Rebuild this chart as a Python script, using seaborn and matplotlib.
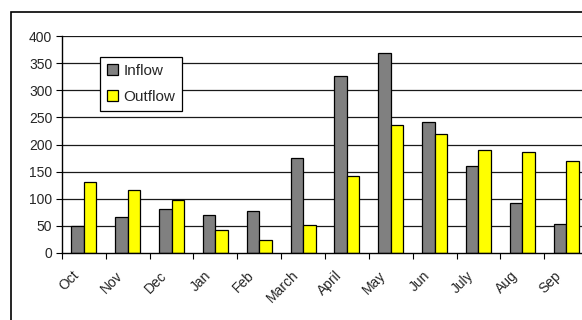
import matplotlib
matplotlib.use("Agg")
import matplotlib.pyplot as plt
from matplotlib.patches import Rectangle
from matplotlib.transforms import ScaledTranslation
import numpy as np
import pandas as pd
import seaborn as sns

sns.set_style("white")
plt.rcParams['font.family'] = ['Liberation Sans', 'DejaVu Sans']

months = ['Oct', 'Nov', 'Dec', 'Jan', 'Feb', 'March', 'April', 'May',
          'Jun', 'July', 'Aug', 'Sep']
inflow = [49, 66, 82, 70, 78, 175, 327, 369, 242, 161, 93, 54]
outflow = [131, 117, 98, 42, 24, 51, 142, 236, 220, 189, 187, 170]
series = ['Inflow', 'Outflow']
colors = ['#808080', '#ffff00']
y_ticks = [0, 50, 100, 150, 200, 250, 300, 350, 400]

df = pd.DataFrame({
    'month': months * 2,
    'value': inflow + outflow,
    'series': ['Inflow'] * len(months) + ['Outflow'] * len(months),
})

W, H = 582, 320
fig = plt.figure(figsize=(W / 100, H / 100), dpi=100)
ax = fig.add_axes([62 / W, 1 - 253 / H, 526 / W, 217 / H])

# outer chart border (cut by the image on right and bottom)
fig.patches.append(Rectangle((11 / W, -0.1), 1.2, 1.1 - 12 / H,
                             transform=fig.transFigure, fill=False,
                             edgecolor='black', linewidth=1.2, zorder=0))

ax.set_axisbelow(True)
for y in y_ticks[1:]:
    ax.axhline(y, color='#1a1a1a', linewidth=0.9, zorder=0)

sns.barplot(data=df, x='month', y='value', hue='series', order=months,
            hue_order=series, palette=colors, width=0.57, edgecolor='black',
            linewidth=0.9, saturation=1, ax=ax)

ax.set_xlim(-0.5, 11.5)
ax.set_ylim(0, 400)
ax.set_yticks(y_ticks)
ax.set_xlabel('')
ax.set_ylabel('')

ax.set_xticks(np.arange(len(months)))
ax.set_xticklabels(months, rotation=45, ha='right', rotation_mode='anchor',
                   fontsize=10)
ax.set_xticks(np.arange(-0.5, len(months), 1), minor=True)
ax.tick_params(axis='x', which='major', length=0, pad=11)
ax.tick_params(axis='x', which='minor', length=4, width=0.8, color='black',
               direction='out', bottom=True)
ax.tick_params(axis='y', length=4, width=0.8, color='black', direction='out',
               left=True, labelsize=10, pad=3)

# nudge the slanted month labels left, like the original
shift = ScaledTranslation(-12 / 100, 0, fig.dpi_scale_trans)
for tick in ax.xaxis.get_major_ticks():
    tick.label1.set_transform(tick.label1.get_transform() + shift)

for side in ['top', 'right']:
    ax.spines[side].set_visible(False)
for side in ['left', 'bottom']:
    ax.spines[side].set_color('black')
    ax.spines[side].set_linewidth(1)

handles, labels = ax.get_legend_handles_labels()
leg = ax.legend(handles, labels, loc='upper left',
                bbox_to_anchor=(0.072, 0.903), borderaxespad=0,
                fontsize=11, handlelength=0.75, handleheight=0.75,
                handletextpad=0.35, labelspacing=0.8, borderpad=0.45,
                fancybox=False, framealpha=1, edgecolor='black')
leg.get_frame().set_linewidth(0.9)

fig.savefig('out.png', dpi=100)
